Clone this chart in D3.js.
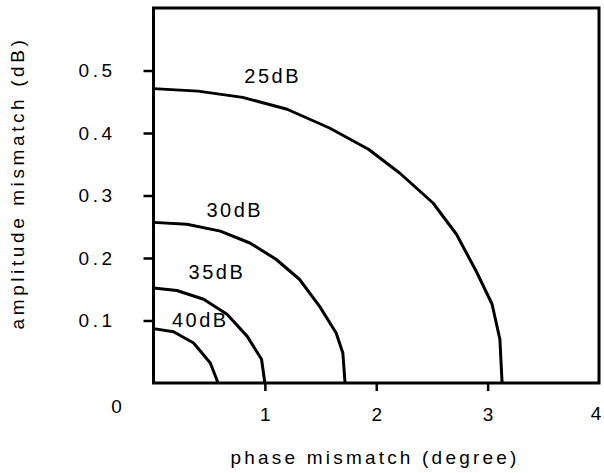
<!DOCTYPE html>
<html>
<head>
<meta charset="utf-8">
<script src="https://cdn.jsdelivr.net/npm/d3@7"></script>
<style>
    body { margin: 0; background: #fff; }
    text { font-family: "Liberation Sans", Arial, sans-serif; fill: #000; }
</style>
</head>
<body>
<div id="plot"></div>
<script>
// curve names (image rejection)
var curveNames = ["25dB", "30dB", "35dB", "40dB"];

// phase mismatch (degree) for each curve
var phase25 = [0, 0.40, 0.80, 1.20, 1.58, 1.93, 2.21, 2.51, 2.72, 2.90, 3.04, 3.11, 3.13];
var phase30 = [0, 0.30, 0.60, 0.865, 1.10, 1.31, 1.49, 1.64, 1.70, 1.72];
var phase35 = [0, 0.21, 0.45, 0.66, 0.84, 0.97, 1.0];
var phase40 = [0, 0.18, 0.36, 0.51, 0.58];

// amplitude mismatch (dB) for each curve
var amp25 = [0.471, 0.467, 0.457, 0.438, 0.408, 0.374, 0.336, 0.288, 0.238, 0.178, 0.126, 0.070, 0];
var amp30 = [0.257, 0.254, 0.243, 0.224, 0.198, 0.166, 0.123, 0.080, 0.048, 0];
var amp35 = [0.152, 0.148, 0.134, 0.110, 0.075, 0.038, 0];
var amp40 = [0.087, 0.082, 0.064, 0.032, 0];

// tick labels
var xTicks = [1, 2, 3];
var yTicks = [0.1, 0.2, 0.3, 0.4, 0.5];

var phases = [phase25, phase30, phase35, phase40];
var amps = [amp25, amp30, amp35, amp40];

// where each curve name sits (data coords)
var labelAt = [[1.07, 0.488], [0.73, 0.274], [0.57, 0.175], [0.42, 0.098]];

// set the dimensions and margins of the graph
var margin = {
        top: 8,
        right: 5,
        bottom: 90,
        left: 153.5
    },
    width = 604 - margin.left - margin.right,
    height = 473 - margin.top - margin.bottom;

var svg = d3.select("#plot")
    .append("svg")
    .attr("width", 604)
    .attr("height", 473)
    .append("g")
    .attr("transform", "translate(" + margin.left + "," + margin.top + ")");

var x = d3.scaleLinear().domain([0, 4]).range([0, width]);
var y = d3.scaleLinear().domain([0, 0.6]).range([height, 0]);

var fontSize = "19px";
var spacing = "3.5px";

// X axis: ticks pointing down, no domain line (frame drawn separately)
var xAxis = svg.append("g")
    .attr("transform", "translate(0," + height + ")")
    .call(d3.axisBottom(x).tickValues(xTicks).tickSize(8).tickPadding(17).tickFormat(d3.format("d")));
xAxis.select(".domain").remove();
xAxis.selectAll(".tick line").attr("stroke", "#000").attr("stroke-width", 2.5);
xAxis.selectAll(".tick text")
    .style("font-size", fontSize)
    .style("letter-spacing", spacing)
    .attr("dx", "1.75px")
    .attr("font-family", null);

// Y axis: ticks pointing left
var yAxis = svg.append("g")
    .call(d3.axisLeft(y).tickValues(yTicks).tickSize(10).tickPadding(28).tickFormat(d3.format(".1f")));
yAxis.select(".domain").remove();
yAxis.selectAll(".tick line").attr("stroke", "#000").attr("stroke-width", 2.5);
yAxis.selectAll(".tick text")
    .style("font-size", fontSize)
    .style("letter-spacing", spacing)
    .attr("font-family", null);

// origin label and the "4" at the right corner
svg.append("text")
    .attr("x", x(0) - 37)
    .attr("y", y(0) + 30)
    .attr("text-anchor", "middle")
    .style("font-size", fontSize)
    .text("0");
svg.append("text")
    .attr("x", x(4) - 3)
    .attr("y", y(0) + 37)
    .attr("text-anchor", "middle")
    .style("font-size", fontSize)
    .text("4");

// frame
svg.append("rect")
    .attr("x", 0)
    .attr("y", 0)
    .attr("width", width)
    .attr("height", height)
    .attr("fill", "none")
    .attr("stroke", "#000")
    .attr("stroke-width", 3);

// curves
var line = d3.line()
    .x(function(d) { return x(d[0]); })
    .y(function(d) { return y(d[1]); });

curveNames.forEach(function(name, i) {
    var pts = phases[i].map(function(p, j) { return [p, amps[i][j]]; });
    svg.append("path")
        .datum(pts)
        .attr("d", line)
        .attr("fill", "none")
        .attr("stroke", "#000")
        .attr("stroke-width", 3)
        .attr("stroke-linejoin", "round");
    svg.append("text")
        .attr("x", x(labelAt[i][0]))
        .attr("y", y(labelAt[i][1]))
        .attr("text-anchor", "middle")
        .attr("dominant-baseline", "middle")
        .style("font-size", "20px")
        .style("letter-spacing", "2.5px")
        .text(name);
});

// X axis label
svg.append("text")
    .attr("text-anchor", "middle")
    .attr("x", 375 - margin.left)
    .attr("y", 464 - margin.top)
    .style("font-size", fontSize)
    .style("letter-spacing", "3.2px")
    .text("phase mismatch (degree)");

// Y axis label
svg.append("text")
    .attr("text-anchor", "middle")
    .attr("transform", "rotate(-90)")
    .attr("x", -(183 - margin.top))
    .attr("y", 24 - margin.left)
    .style("font-size", fontSize)
    .style("letter-spacing", "3.6px")
    .text("amplitude mismatch (dB)");
</script>
</body>
</html>
